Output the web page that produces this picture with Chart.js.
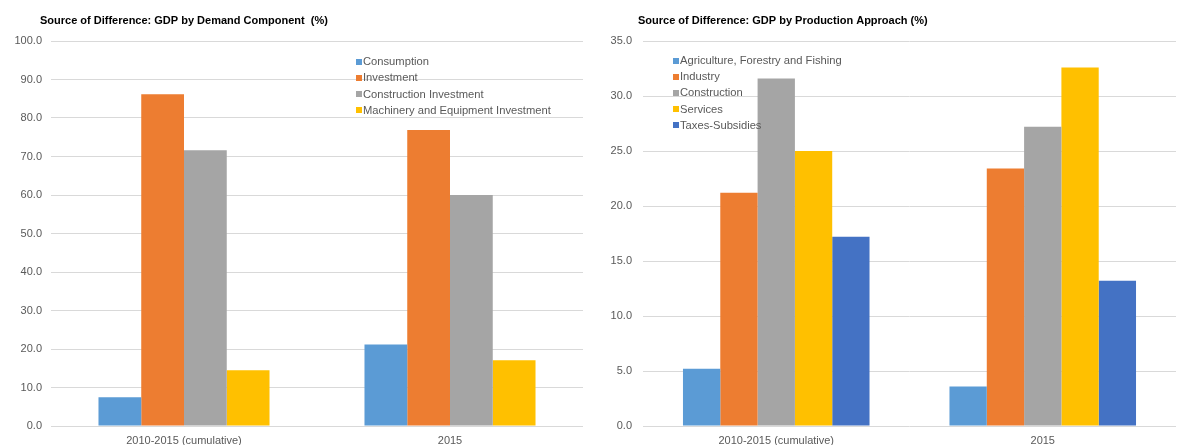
<!DOCTYPE html>
<html>
<head>
<meta charset="utf-8">
<script src="https://cdn.jsdelivr.net/npm/chart.js@4/dist/chart.umd.min.js"></script>
<style>
  html, body { margin: 0; padding: 0; background: #fff; }
  .panel { position: absolute; top: 0; width: 589px; height: 445px; }
  #left { left: 0; }
  #right { left: 589px; }
</style>
</head>
<body>
<div class="panel" id="left"><canvas id="demandChart" width="589" height="445"></canvas></div>
<div class="panel" id="right"><canvas id="productionChart" width="589" height="445"></canvas></div>
<script>
// Data
const periods = ['2010-2015 (cumulative)', '2015'];

const demandTitle = 'Source of Difference: GDP by Demand Component  (%)';
const demandLabels = ['Consumption', 'Investment', 'Construction Investment', 'Machinery and Equipment Investment'];
const consumption = [7.5, 21.2];
const investment = [86.2, 76.9];
const constructionInvestment = [71.6, 60.0];
const machineryInvestment = [14.5, 17.1];

const productionTitle = 'Source of Difference: GDP by Production Approach (%)';
const productionLabels = ['Agriculture, Forestry and Fishing', 'Industry', 'Construction', 'Services', 'Taxes-Subsidies'];
const agriculture = [5.2, 3.6];
const industry = [21.2, 23.4];
const construction = [31.6, 27.2];
const services = [25.0, 32.6];
const taxesSubsidies = [17.2, 13.2];

const demandTicks = { min: 0, max: 100, step: 10 };
const productionTicks = { min: 0, max: 35, step: 5 };

const colors = ['#5B9BD5', '#ED7D31', '#A5A5A5', '#FFC000', '#4472C4'];
const FONT = '"Liberation Sans", Arial, sans-serif';

// Title + in-plot legend drawn at fixed spots, like the original
const panelText = {
    id: 'panelText',
    afterDraw(chart, args, opts) {
        const ctx = chart.ctx;
        ctx.save();
        ctx.textBaseline = 'middle';
        ctx.textAlign = 'left';
        ctx.fillStyle = '#000';
        ctx.font = 'bold 11px ' + FONT;
        ctx.fillText(opts.title, opts.titleX, opts.titleY);

        ctx.font = '11.2px ' + FONT;
        chart.data.datasets.forEach((ds, i) => {
            const y = opts.legendY + i * opts.legendStep;
            ctx.fillStyle = ds.backgroundColor;
            ctx.fillRect(opts.legendX, Math.round(y - 3), 6, 6);
            ctx.fillStyle = '#595959';
            ctx.fillText(ds.label, opts.legendX + 7, y + 0.5);
        });
        ctx.restore();
    }
};

function makeChart(id, labels, series, ticks, catPct, text, axisWidth, tickPad, padRight) {
    return new Chart(document.getElementById(id), {
        type: 'bar',
        data: {
            labels: periods,
            datasets: series.map((s, i) => ({
                label: labels[i],
                data: s,
                backgroundColor: colors[i],
                borderWidth: 0,
                barPercentage: 1,
                categoryPercentage: catPct
            }))
        },
        options: {
            responsive: false,
            devicePixelRatio: 1,
            animation: false,
            layout: { padding: { top: 41, right: padRight, bottom: 0, left: 0 } },
            plugins: {
                legend: { display: false },
                title: { display: false },
                tooltip: { enabled: false },
                panelText: text
            },
            scales: {
                x: {
                    grid: { display: false, drawTicks: false },
                    border: { display: false },
                    ticks: { color: '#595959', font: { family: FONT, size: 11 }, padding: 8, maxRotation: 0 },
                    afterFit(scale) { scale.height = 19; }
                },
                y: {
                    min: ticks.min,
                    max: ticks.max,
                    grid: { color: '#d9d9d9', lineWidth: 1, drawTicks: false },
                    border: { display: false },
                    ticks: {
                        stepSize: ticks.step,
                        color: '#595959',
                        font: { family: FONT, size: 11 },
                        padding: tickPad,
                        callback: v => v.toFixed(1)
                    },
                    afterFit(scale) { scale.width = axisWidth; }
                }
            }
        },
        plugins: [panelText]
    });
}

makeChart('demandChart', demandLabels,
    [consumption, investment, constructionInvestment, machineryInvestment],
    demandTicks, 0.643,
    { title: demandTitle, titleX: 40, titleY: 20.5, legendX: 356, legendY: 61.7, legendStep: 16.2 },
    51, 9, 6);

makeChart('productionChart', productionLabels,
    [agriculture, industry, construction, services, taxesSubsidies],
    productionTicks, 0.70,
    { title: productionTitle, titleX: 49, titleY: 20.5, legendX: 84, legendY: 60.7, legendStep: 16.1 },
    54, 11, 2);
</script>
</body>
</html>
